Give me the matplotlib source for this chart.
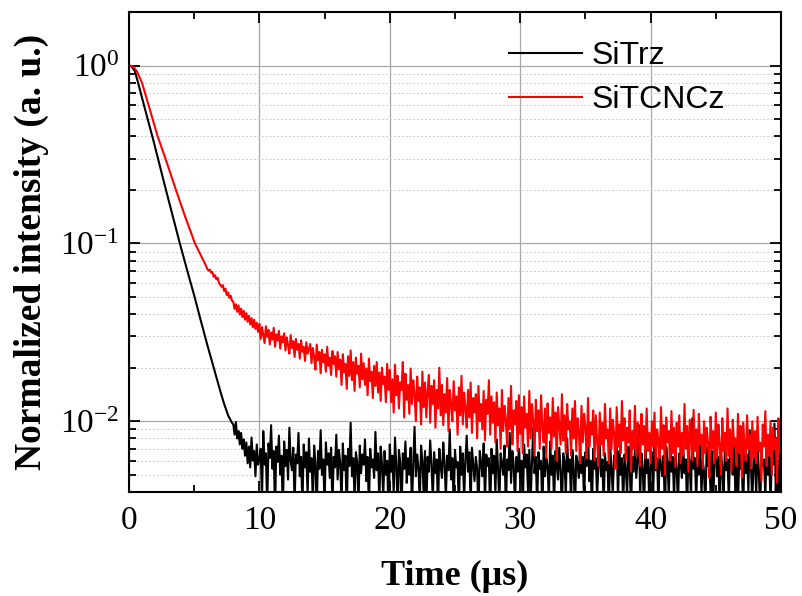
"""Transient PL decay of SiTrz and SiTCNCz films."""
import numpy as np
import matplotlib
matplotlib.use("Agg")
import matplotlib.pyplot as plt
from matplotlib.ticker import LogLocator, MultipleLocator, NullFormatter

# --- data (time in us, normalized intensity) ---
# smooth early part of each decay
sitrz_head_t = [0.0, 0.2, 0.45, 0.7, 1.2, 1.87, 2.3, 2.76, 3.3, 3.9,
                4.5, 5.0, 5.5, 6.0, 6.5, 7.0, 7.3, 7.6, 7.9]
sitrz_head_y = [1.0, 0.99, 0.93, 0.80, 0.58, 0.38, 0.285, 0.21, 0.148, 0.10,
                0.069, 0.051, 0.037, 0.027, 0.020, 0.0148, 0.0125, 0.0108, 0.0098]

sitcncz_head_t = [0.0, 0.3, 0.6, 1.0, 1.5, 2.2, 2.9, 3.6, 4.3, 5.06, 5.5, 5.9]
sitcncz_head_y = [1.0, 0.99, 0.93, 0.80, 0.60, 0.40, 0.285, 0.20, 0.142, 0.10,
                  0.086, 0.075]

# noisy tails, sampled every 0.1 us, values in units of 1e-4
sitrz_tail_start = 8.0
sitrz_tail = [
    96, 84, 99, 80, 88, 74, 86, 70, 79, 64, 76, 58, 72, 55, 81, 60, 68, 49, 74, 57,
    61, 70, 36, 88, 57, 66, 33, 75, 62, 95, 54, 68, 31, 72, 59, 83, 50, 64, 30, 77,
    56, 69, 47, 92, 60, 53, 71, 34, 65, 58, 86, 49, 63, 32, 74, 55, 67, 38, 80, 52,
    62, 35, 73, 58, 31, 68, 54, 89, 50, 61, 33, 76, 57, 66, 48, 71, 32, 63, 55, 84,
    47, 69, 58, 34, 75, 53, 64, 29, 70, 56, 98, 49, 62, 36, 67, 59, 33, 73, 51, 65,
    57, 79, 46, 63, 32, 70, 55, 61, 48, 87, 53, 66, 34, 72, 58, 37, 68, 50, 60, 30,
    74, 52, 64, 39, 81, 56, 33, 69, 59, 29, 66, 54, 77, 45, 62, 50, 71, 32, 58, 93,
    49, 65, 55, 34, 73, 60, 38, 68, 30, 63, 52, 78, 57, 36, 67, 51, 61, 31, 70, 56,
    48, 76, 58, 37, 64, 53, 90, 47, 62, 33, 69, 55, 59, 30, 72, 50, 66, 36, 61, 83,
    52, 67, 32, 71, 57, 46, 63, 54, 30, 68, 59, 49, 75, 35, 65, 56, 62, 29, 70, 51,
    64, 39, 79, 55, 34, 66, 58, 50, 73, 31, 61, 53, 86, 45, 68, 57, 33, 63, 52, 70,
    46, 60, 30, 74, 55, 65, 40, 69, 35, 58, 92, 51, 63, 32, 67, 54, 60, 29, 72, 49,
    62, 56, 36, 77, 50, 64, 33, 68, 57, 47, 71, 53, 30, 66, 59, 38, 80, 52, 61, 35,
    69, 55, 30, 64, 58, 48, 74, 51, 63, 34, 67, 56, 88, 46, 60, 31, 70, 54, 62, 37,
    57, 73, 49, 61, 32, 66, 53, 59, 29, 71, 55, 39, 64, 58, 82, 36, 68, 50, 62, 33,
    65, 54, 38, 72, 57, 31, 63, 52, 69, 48, 60, 95, 37, 66, 55, 30, 70, 51, 61, 35,
    58, 67, 39, 75, 53, 62, 32, 68, 56, 49, 64, 28, 72, 57, 38, 85, 52, 63, 36, 69,
    55, 33, 66, 59, 48, 73, 51, 61, 30, 70, 57, 37, 104, 54, 62, 35, 67, 50, 78, 38,
    60, 52, 31, 71, 56, 64, 39, 68, 34, 59, 76, 49, 63, 30, 66, 55, 37, 72, 53, 61,
    36, 69, 57, 50, 81, 38, 62, 32, 67, 54, 58, 29, 73, 51, 65, 40, 89, 55, 34, 63,
    59, 39, 70, 53, 30, 66, 56, 61, 37, 74, 50, 63, 33, 68, 57, 97, 40, 60, 31, 65,
    54,
]

sitcncz_tail_start = 6.0
sitcncz_tail = [
    720, 703, 712, 684, 690, 648, 662, 628, 640, 598, 585, 570, 582, 540, 556, 512, 530, 494, 508, 476,
    470, 428, 455, 412, 448, 398, 430, 385, 418, 372, 405, 362, 392, 350, 380, 338, 372, 330, 358, 318,
    352, 290, 338, 305, 275, 342, 298, 326, 270, 315, 288, 335, 262, 308, 284, 322, 256, 300, 278, 312,
    250, 296, 268, 240, 305, 258, 282, 230, 290, 252, 272, 225, 285, 246, 262, 218, 278, 240, 255, 272,
    212, 258, 230, 195, 270, 220, 245, 186, 252, 215, 238, 190, 262, 205, 228, 182, 248, 210, 232, 178,
    245, 196, 222, 160, 238, 188, 210, 152, 232, 180, 250, 170, 215, 148, 228, 185, 205, 155, 240, 172,
    212, 160, 198, 140, 225, 168, 190, 135, 205, 158, 215, 145, 188, 130, 200, 162, 178, 128, 210, 150,
    195, 128, 172, 112, 208, 140, 180, 118, 165, 150, 215, 105, 185, 132, 160, 110, 198, 125, 170, 142,
    100, 178, 130, 155, 96, 190, 120, 165, 105, 148, 182, 98, 158, 125, 170, 92, 150, 118, 200, 108,
    160, 95, 142, 112, 175, 88, 150, 125, 100, 168, 115, 138, 84, 155, 108, 180, 96, 145, 118, 92,
    150, 105, 165, 86, 135, 112, 142, 80, 158, 100, 125, 90, 148, 78, 132, 110, 170, 84, 138, 98,
    128, 76, 145, 95, 118, 70, 150, 88, 122, 102, 72, 135, 90, 158, 74, 115, 96, 130, 68, 140,
    85, 120, 66, 138, 92, 110, 72, 148, 80, 125, 100, 64, 132, 88, 115, 70, 140, 94, 76, 118,
    62, 126, 86, 105, 70, 135, 82, 112, 60, 120, 95, 74, 142, 78, 108, 66, 125, 90, 100, 64,
    118, 80, 130, 68, 104, 88, 58, 122, 76, 110, 92, 62, 135, 72, 98, 84, 115, 60, 108, 78,
    56, 112, 74, 98, 64, 125, 80, 90, 58, 118, 70, 102, 86, 54, 120, 72, 96, 66, 130, 78,
    104, 60, 92, 76, 115, 52, 88, 70, 122, 64, 98, 80, 56, 110, 74, 94, 62, 118, 68, 86,
    58, 100, 72, 112, 54, 90, 78, 62, 120, 70, 95, 50, 105, 76, 88, 60, 114, 66, 92, 55,
    98, 72, 108, 58, 86, 64, 125, 70, 94, 52, 102, 78, 60, 116, 68, 90, 56, 110, 74, 84,
    54, 100, 66, 92, 76, 48, 106, 70, 88, 58, 112, 62, 96, 74, 50, 104, 68, 86, 60, 118,
    64, 90, 52, 102, 72, 80, 56, 110, 66, 94, 48, 98, 74, 60, 108, 70, 84, 54, 100, 62,
    88, 58, 106, 68, 76, 46, 96, 72, 114, 56, 84, 64, 100, 50, 92, 70, 80, 45, 104, 66,
    74,
]

t_end = 50.0
series_labels = ["SiTrz", "SiTCNCz"]
series_colors = ["black", "#ff0000"]


def build_curve(head_t, head_y, tail, tail_start):
    tail_t = np.linspace(tail_start, t_end, len(tail))
    t = np.concatenate([head_t, tail_t])
    y = np.concatenate([head_y, np.array(tail) * 1e-4])
    return t, y


plt.rcParams['mathtext.fontset'] = 'custom'
plt.rcParams['mathtext.rm'] = 'Liberation Serif'
plt.rcParams['mathtext.it'] = 'Liberation Serif:italic'
plt.rcParams['mathtext.bf'] = 'Liberation Serif:bold'

fig = plt.figure(figsize=(8.03, 5.96), dpi=100)
ax = fig.add_axes([0.1606, 0.1745, 0.812, 0.8054])

curves = [
    build_curve(sitrz_head_t, sitrz_head_y, sitrz_tail, sitrz_tail_start),
    build_curve(sitcncz_head_t, sitcncz_head_y, sitcncz_tail, sitcncz_tail_start),
]
for (t, y), label, color in zip(curves, series_labels, series_colors):
    ax.plot(t, y, color=color, lw=1.5, label=label)

ax.set_yscale('log')
ax.set_xlim(0, 50)
ax.set_ylim(0.004, 2.0)

ax.xaxis.set_major_locator(MultipleLocator(10))
ax.xaxis.set_minor_locator(MultipleLocator(5))
ax.yaxis.set_major_locator(LogLocator(base=10, numticks=10))
ax.yaxis.set_minor_locator(LogLocator(base=10, subs=np.arange(2, 10), numticks=10))
ax.yaxis.set_minor_formatter(NullFormatter())

ax.grid(True, which='major', color='#a8a8a8', lw=0.9, ls='-')
ax.grid(True, which='minor', axis='y', color='#cccccc', lw=0.7, ls=(0, (2, 2)))
ax.set_axisbelow(True)

ax.tick_params(which='both', direction='in', top=True, right=True, width=1.3)
ax.tick_params(which='major', length=8, labelsize=24)
ax.tick_params(axis='x', which='major', pad=10)
ax.tick_params(axis='y', which='major', pad=7)
ax.tick_params(which='minor', length=5)
for lbl in ax.get_xticklabels() + ax.get_yticklabels():
    lbl.set_fontfamily('Liberation Serif')
for sp in ax.spines.values():
    sp.set_linewidth(1.5)

ax.set_xlabel('Time (\u03bcs)', fontsize=26, fontweight='bold',
              fontfamily='Liberation Serif', labelpad=17)
ax.set_ylabel('Normalized intensity (a. u.)', fontsize=27, fontweight='bold',
              fontfamily='Liberation Serif', labelpad=8)

ax.legend(loc='upper left', bbox_to_anchor=(0.538, 1.0), frameon=False,
          prop={'family': 'Liberation Sans', 'size': 23},
          handlelength=2.3, handletextpad=0.3, labelspacing=0.45)

plt.savefig('out.png', dpi=100)
